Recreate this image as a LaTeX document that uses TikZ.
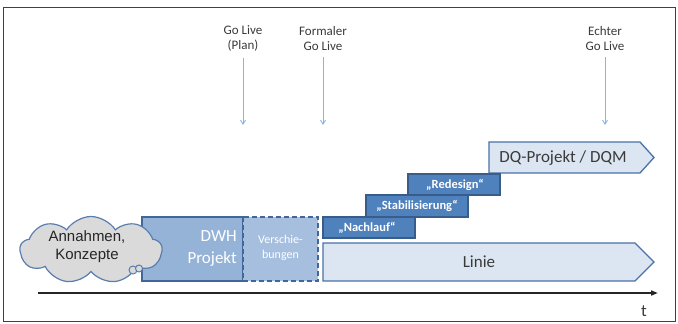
\documentclass[tikz,border=0pt]{standalone}
\usepackage{fontspec}
\setmainfont{Carlito}
\newfontfamily\arialfont{Liberation Sans}
\usetikzlibrary{shapes.symbols,arrows.meta}
\definecolor{dwhfill}{HTML}{95B3D7}
\definecolor{verfill}{HTML}{A7BFDE}
\definecolor{darkblue}{HTML}{41679A}
\definecolor{midblue}{HTML}{4F81BD}
\definecolor{stepborder}{HTML}{385D8A}
\definecolor{lightfill}{HTML}{DCE6F2}
\definecolor{arrowborder}{HTML}{4A72A8}
\definecolor{cloudfill}{HTML}{DADADA}
\definecolor{cloudline}{HTML}{5B7DAE}
\definecolor{golive}{HTML}{8DB3E2}
\definecolor{txt}{HTML}{3A3A3A}
\tikzset{
  lbl/.style={align=center, text=txt, font=\fontsize{13}{15.5}\selectfont, inner sep=1pt},
  glarrow/.style={draw=golive, line width=0.9pt, -{Straight Barb[length=4pt,width=5pt]}, shorten <=5pt},
  stepbox/.style={draw=stepborder, fill=midblue, line width=1.3pt},
  steptxt/.style={text=white, font=\bfseries\fontsize{12.5}{15}\selectfont, inner sep=0pt},
  arrowbox/.style={draw=arrowborder, fill=lightfill, line width=1.3pt, line join=miter},
  bigtxt/.style={text=txt, font=\fontsize{17}{20}\selectfont, inner sep=0pt},
}
\begin{document}
\begin{tikzpicture}[x=1pt,y=-1pt]
\useasboundingbox (0,0) rectangle (678,324);
\draw[line width=1pt, black!75] (3.5,7.5) rectangle (675.5,321.5);

% Go Live labels and arrows
\node[lbl] (gl1) at (243,38.5) {Go Live\\(Plan)};
\node[lbl] (gl2) at (323,38.5) {Formaler\\Go Live};
\node[lbl] (gl3) at (605,38.5) {Echter\\Go Live};
\coordinate (gl1e) at (243,125);
\coordinate (gl2e) at (323,125);
\coordinate (gl3e) at (605,125);
\draw[glarrow] (gl1) -- (gl1e);
\draw[glarrow] (gl2) -- (gl2e);
\draw[glarrow] (gl3) -- (gl3e);

% DWH project
\draw[draw=darkblue, fill=dwhfill, line width=1.3pt] (142,217) rectangle (243,281);
\node[text=white, align=right, anchor=east, font=\fontsize{17}{22}\selectfont, inner sep=0pt] (dwh) at (237,248.5) {DWH\\Projekt};
\draw[draw=darkblue, fill=verfill, line width=1.5pt, dash pattern=on 5pt off 3pt] (243,217) rectangle (318,281);
\node[text=white, align=center, font=\fontsize{12}{14.5}\selectfont, inner sep=0pt] (ver) at (280.5,248) {Verschie-\\bungen};

% cloud
\node[cloud, cloud puffs=9, cloud puff arc=115, aspect=2.1, minimum width=142, minimum height=67, fill=cloudfill, draw=cloudline, line width=1.2pt, inner sep=0pt] (cloud) at (91,250) {};
\node[circle, draw=cloudline, fill=cloudfill, line width=1pt, minimum size=8, inner sep=0pt] (b1) at (133,270) {};
\node[circle, draw=cloudline, fill=cloudfill, line width=1pt, minimum size=7, inner sep=0pt] (b2) at (139,268.5) {};
\node[align=center, text=black!85, font=\arialfont\fontsize{15}{18}\selectfont, inner sep=0pt] (cloudtxt) at (87,247) {Annahmen,\\Konzepte};

% Linie
\draw[arrowbox] (323,243) -- (635,243) -- (654,262) -- (635,281) -- (323,281) -- cycle;
\node[bigtxt] (linie) at (479,262) {Linie};

% DQ-Projekt
\draw[arrowbox] (489,142) -- (640,142) -- (654,157.5) -- (640,173) -- (489,173) -- cycle;
\node[bigtxt] (dq) at (563,158) {DQ-Projekt / DQM};

% steps
\draw[stepbox] (408,174) rectangle (500,195);
\node[steptxt] (redesign) at (455,185) {„Redesign“};
\draw[stepbox] (366,195) rectangle (468,217);
\node[steptxt] (stab) at (417,206) {„Stabilisierung“};
\draw[stepbox] (323,217) rectangle (415,238);
\node[steptxt] (nach) at (367,228) {„Nachlauf“};

% time axis
\coordinate (t0) at (38,293);
\coordinate (t1) at (658,293);
\draw[line width=2pt, black!85, -{Triangle[length=7pt,width=5pt]}] (t0) -- (t1);
\node[text=txt, font=\fontsize{17}{20}\selectfont, inner sep=0pt] (t) at (644,311) {t};
\end{tikzpicture}
\end{document}
